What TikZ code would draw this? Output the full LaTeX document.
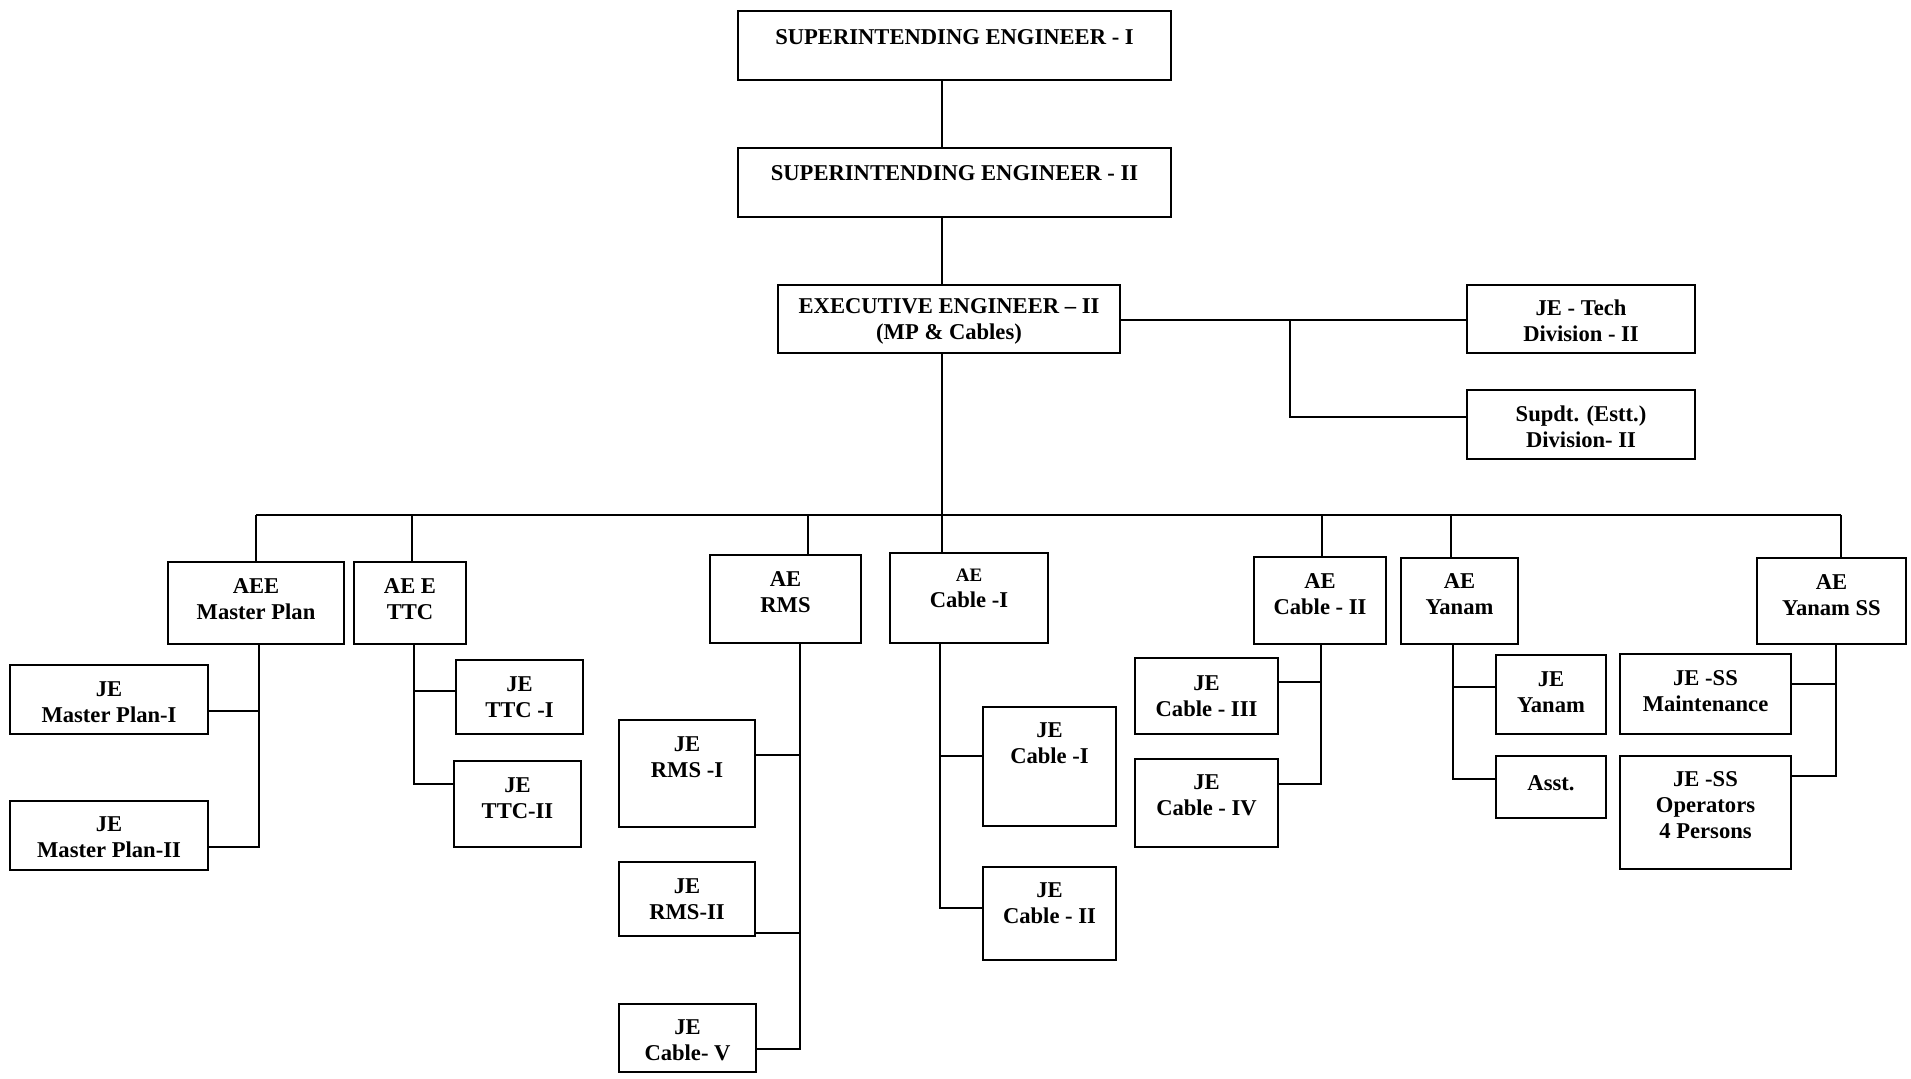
\documentclass[tikz,border=0pt]{standalone}
\usepackage{fontspec}
\setmainfont{Liberation Serif}
\usepackage{tikz}
\usetikzlibrary{positioning,fit}
\tikzset{>=latex}
\def\ux{0.5pt}
\def\uy{-0.5pt}
\tikzstyle{orgbox}=[draw, line width=0.8pt, inner sep=0pt]
\tikzstyle{lbl}=[align=center, inner sep=0pt, font=\fontsize{11.3}{13}\selectfont\bfseries]
\tikzstyle{wire}=[line width=0.8pt]
% box from corner to corner, text centred at height #6
\newcommand{\orgunit}[7]{%
  \node[orgbox, fit={(#2,#3) (#4,#5)}] (#1) {};
  \node[lbl] (#1t) at ({(#2+#4)/2},#6) {#7};
}

\begin{document}
\begin{tikzpicture}[x=\ux,y=\uy]
	\useasboundingbox (0,0) rectangle (1911,1079);

	% head of the office
	\orgunit{se1}{738}{11}{1171}{80}{37}{SUPERINTENDING ENGINEER - I}
	\orgunit{se2}{738}{148}{1171}{217}{173}{SUPERINTENDING ENGINEER - II}
	\orgunit{ee}{778}{285}{1120}{353}{321}{EXECUTIVE ENGINEER – II\\(MP \& Cables)}
	\orgunit{jetech}{1467}{285}{1695}{353}{321}{JE - Tech\\Division - II}
	\orgunit{supdt}{1467}{390}{1695}{459}{427}{Supdt. (Estt.)\\Division- II}

	% assistant engineers
	\orgunit{aeeMP}{168}{562}{344}{644}{599}{AEE\\Master Plan}
	\orgunit{aeTTC}{354}{562}{466}{644}{599}{AE E\\TTC}
	\orgunit{aeRMS}{710}{555}{861}{643}{592}{AE\\RMS}
	\orgunit{aeCab1}{890}{553}{1048}{643}{588}{{\fontsize{9.5}{11}\selectfont AE}\\Cable -I}
	\orgunit{aeCab2}{1254}{557}{1386}{644}{594}{AE\\Cable - II}
	\orgunit{aeYanam}{1401}{558}{1518}{644}{594}{AE\\Yanam}
	\orgunit{aeYSS}{1757}{558}{1906}{644}{595}{AE\\Yanam SS}

	% junior engineers
	\orgunit{jeMP1}{10}{665}{208}{734}{702}{JE\\Master Plan-I}
	\orgunit{jeMP2}{10}{801}{208}{870}{837}{JE\\Master Plan-II}
	\orgunit{jeTTC1}{456}{660}{583}{734}{697}{JE\\TTC -I}
	\orgunit{jeTTC2}{454}{761}{581}{847}{798}{JE\\TTC-II}
	\orgunit{jeRMS1}{619}{720}{755}{827}{757}{JE\\RMS -I}
	\orgunit{jeRMS2}{619}{862}{755}{936}{899}{JE\\RMS-II}
	\orgunit{jeCab5}{619}{1004}{756}{1072}{1040}{JE\\Cable- V}
	\orgunit{jeCab1}{983}{707}{1116}{826}{743}{JE\\Cable -I}
	\orgunit{jeCab2}{983}{867}{1116}{960}{903}{JE\\Cable - II}
	\orgunit{jeCab3}{1135}{658}{1278}{734}{696}{JE\\Cable - III}
	\orgunit{jeCab4}{1135}{759}{1278}{847}{795}{JE\\Cable - IV}
	\orgunit{jeYanam}{1496}{655}{1606}{734}{692}{JE\\Yanam}
	\orgunit{asst}{1496}{756}{1606}{818}{783}{Asst.}
	\orgunit{jessM}{1620}{654}{1791}{734}{691}{JE -SS\\Maintenance}
	\orgunit{jessO}{1620}{756}{1791}{869}{805}{JE -SS\\Operators\\4 Persons}

	% main line
	\coordinate (spine) at (942,0);
	\coordinate (busL) at (256,515);
	\coordinate (busR) at (1841,515);
	\draw[wire] (spine |- se1.south) -- (spine |- se2.north);
	\draw[wire] (spine |- se2.south) -- (spine |- ee.north);
	\draw[wire] (spine |- ee.south) -- (spine |- busL);
	\draw[wire] (busL) -- (busR);
	\foreach \n/\x in {aeeMP/256,aeTTC/412,aeRMS/808,aeCab1/942,aeCab2/1322,aeYanam/1451,aeYSS/1841}{
		\path (\x,515) coordinate (d\n);
		\draw[wire] (d\n) -- (d\n |- \n.north);
	}

	% staff of the division
	\coordinate (tj) at (1290,320);
	\coordinate (ts) at (1290,417);
	\draw[wire] (ee.east |- tj) -- (jetech.west |- tj);
	\draw[wire] (tj) -- (ts) -- (supdt.west |- ts);

	% branches
	\coordinate (mpA) at (259,711);
	\coordinate (mpB) at (259,847);
	\draw[wire] (mpA |- aeeMP.south) -- (mpB) -- (jeMP2.east |- mpB);
	\draw[wire] (mpA) -- (jeMP1.east |- mpA);

	\coordinate (ttA) at (414,691);
	\coordinate (ttB) at (414,784);
	\draw[wire] (ttA |- aeTTC.south) -- (ttB) -- (jeTTC2.west |- ttB);
	\draw[wire] (ttA) -- (jeTTC1.west |- ttA);

	\coordinate (rmA) at (800,755);
	\coordinate (rmB) at (800,933);
	\coordinate (rmC) at (800,1049);
	\draw[wire] (rmA |- aeRMS.south) -- (rmC) -- (jeCab5.east |- rmC);
	\draw[wire] (rmA) -- (jeRMS1.east |- rmA);
	\draw[wire] (rmB) -- (jeRMS2.east |- rmB);

	\coordinate (caA) at (940,756);
	\coordinate (caB) at (940,908);
	\draw[wire] (caA |- aeCab1.south) -- (caB) -- (jeCab2.west |- caB);
	\draw[wire] (caA) -- (jeCab1.west |- caA);

	\coordinate (cbA) at (1321,682);
	\coordinate (cbB) at (1321,784);
	\draw[wire] (cbA |- aeCab2.south) -- (cbB) -- (jeCab4.east |- cbB);
	\draw[wire] (cbA) -- (jeCab3.east |- cbA);

	\coordinate (yaA) at (1453,687);
	\coordinate (yaB) at (1453,779);
	\draw[wire] (yaA |- aeYanam.south) -- (yaB) -- (asst.west |- yaB);
	\draw[wire] (yaA) -- (jeYanam.west |- yaA);

	\coordinate (ysA) at (1836,684);
	\coordinate (ysB) at (1836,776);
	\draw[wire] (ysA |- aeYSS.south) -- (ysB) -- (jessO.east |- ysB);
	\draw[wire] (ysA) -- (jessM.east |- ysA);
\end{tikzpicture}
\end{document}
